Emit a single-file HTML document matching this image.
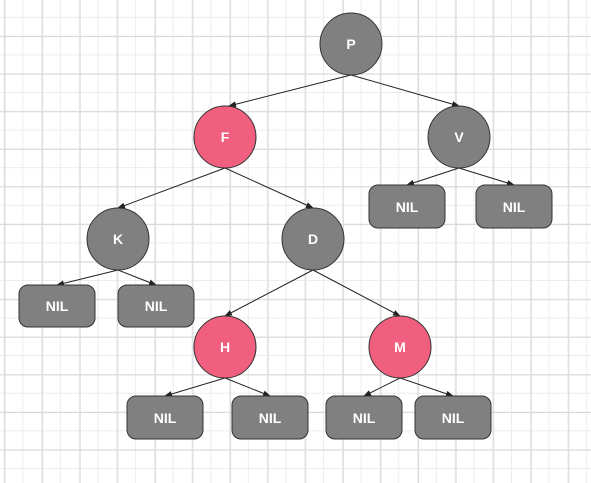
<!DOCTYPE html>
<html><head><meta charset="utf-8"><style>
html,body{margin:0;padding:0;}
body{width:591px;height:478px;overflow:hidden;background:#fff;
background-image:
linear-gradient(#d9d9d9 1px,transparent 1px),
linear-gradient(90deg,#d9d9d9 1px,transparent 1px),
linear-gradient(#ececec 1px,transparent 1px),
linear-gradient(90deg,#ececec 1px,transparent 1px);
background-size:37.6px 37.6px,37.6px 37.6px,18.8px 18.8px,18.8px 18.8px;
background-position:0 -1.5px,4.5px 0,0 -2px,3.5px 0;}
text{font-family:"Liberation Sans",sans-serif;font-weight:bold;font-size:14px;fill:#fff;text-anchor:middle;dominant-baseline:central;}
</style></head><body>
<svg width="591" height="478" xmlns="http://www.w3.org/2000/svg">
<defs><marker id="a" markerWidth="8" markerHeight="6" refX="7" refY="3" orient="auto" markerUnits="userSpaceOnUse"><path d="M0,0L8,3L0,6z" fill="#222"/></marker></defs>
<g stroke="#222" stroke-width="1" marker-end="url(#a)">
<line x1="351" y1="75" x2="229" y2="106"/>
<line x1="351" y1="75" x2="459" y2="106"/>
<line x1="225" y1="168" x2="118" y2="208"/>
<line x1="225" y1="168" x2="313" y2="208"/>
<line x1="459" y1="168" x2="407" y2="185"/>
<line x1="459" y1="168" x2="514" y2="185"/>
<line x1="118" y1="270" x2="57" y2="285"/>
<line x1="118" y1="270" x2="156" y2="285"/>
<line x1="313" y1="270" x2="225" y2="316"/>
<line x1="313" y1="270" x2="400" y2="316"/>
<line x1="225" y1="378" x2="165" y2="396"/>
<line x1="225" y1="378" x2="270" y2="396"/>
<line x1="400" y1="378" x2="364" y2="396"/>
<line x1="400" y1="378" x2="453" y2="396"/>
</g>
<g stroke="#333" stroke-width="1">
<circle cx="351" cy="44" r="31" fill="#808080"/>
<circle cx="225" cy="137" r="31" fill="#f0607e"/>
<circle cx="459" cy="137" r="31" fill="#808080"/>
<circle cx="118" cy="239" r="31" fill="#808080"/>
<circle cx="313" cy="239" r="31" fill="#808080"/>
<circle cx="225" cy="347" r="31" fill="#f0607e"/>
<circle cx="400" cy="347" r="31" fill="#f0607e"/>
<rect x="369" y="185" width="76" height="43" rx="9" fill="#808080"/>
<rect x="476" y="185" width="76" height="43" rx="9" fill="#808080"/>
<rect x="19" y="285" width="76" height="42" rx="9" fill="#808080"/>
<rect x="118" y="285" width="76" height="42" rx="9" fill="#808080"/>
<rect x="127" y="396" width="76" height="43" rx="9" fill="#808080"/>
<rect x="232" y="396" width="76" height="43" rx="9" fill="#808080"/>
<rect x="326" y="396" width="76" height="43" rx="9" fill="#808080"/>
<rect x="415" y="396" width="76" height="43" rx="9" fill="#808080"/>
</g>
<text x="351" y="44">P</text><text x="225" y="137">F</text><text x="459" y="137">V</text>
<text x="118" y="239">K</text><text x="313" y="239">D</text><text x="225" y="347">H</text><text x="400" y="347">M</text>
<text x="407" y="207">NIL</text><text x="514" y="207">NIL</text>
<text x="57" y="306">NIL</text><text x="156" y="306">NIL</text>
<text x="165" y="418">NIL</text><text x="270" y="418">NIL</text><text x="364" y="418">NIL</text><text x="453" y="418">NIL</text>
</svg>
</body></html>
